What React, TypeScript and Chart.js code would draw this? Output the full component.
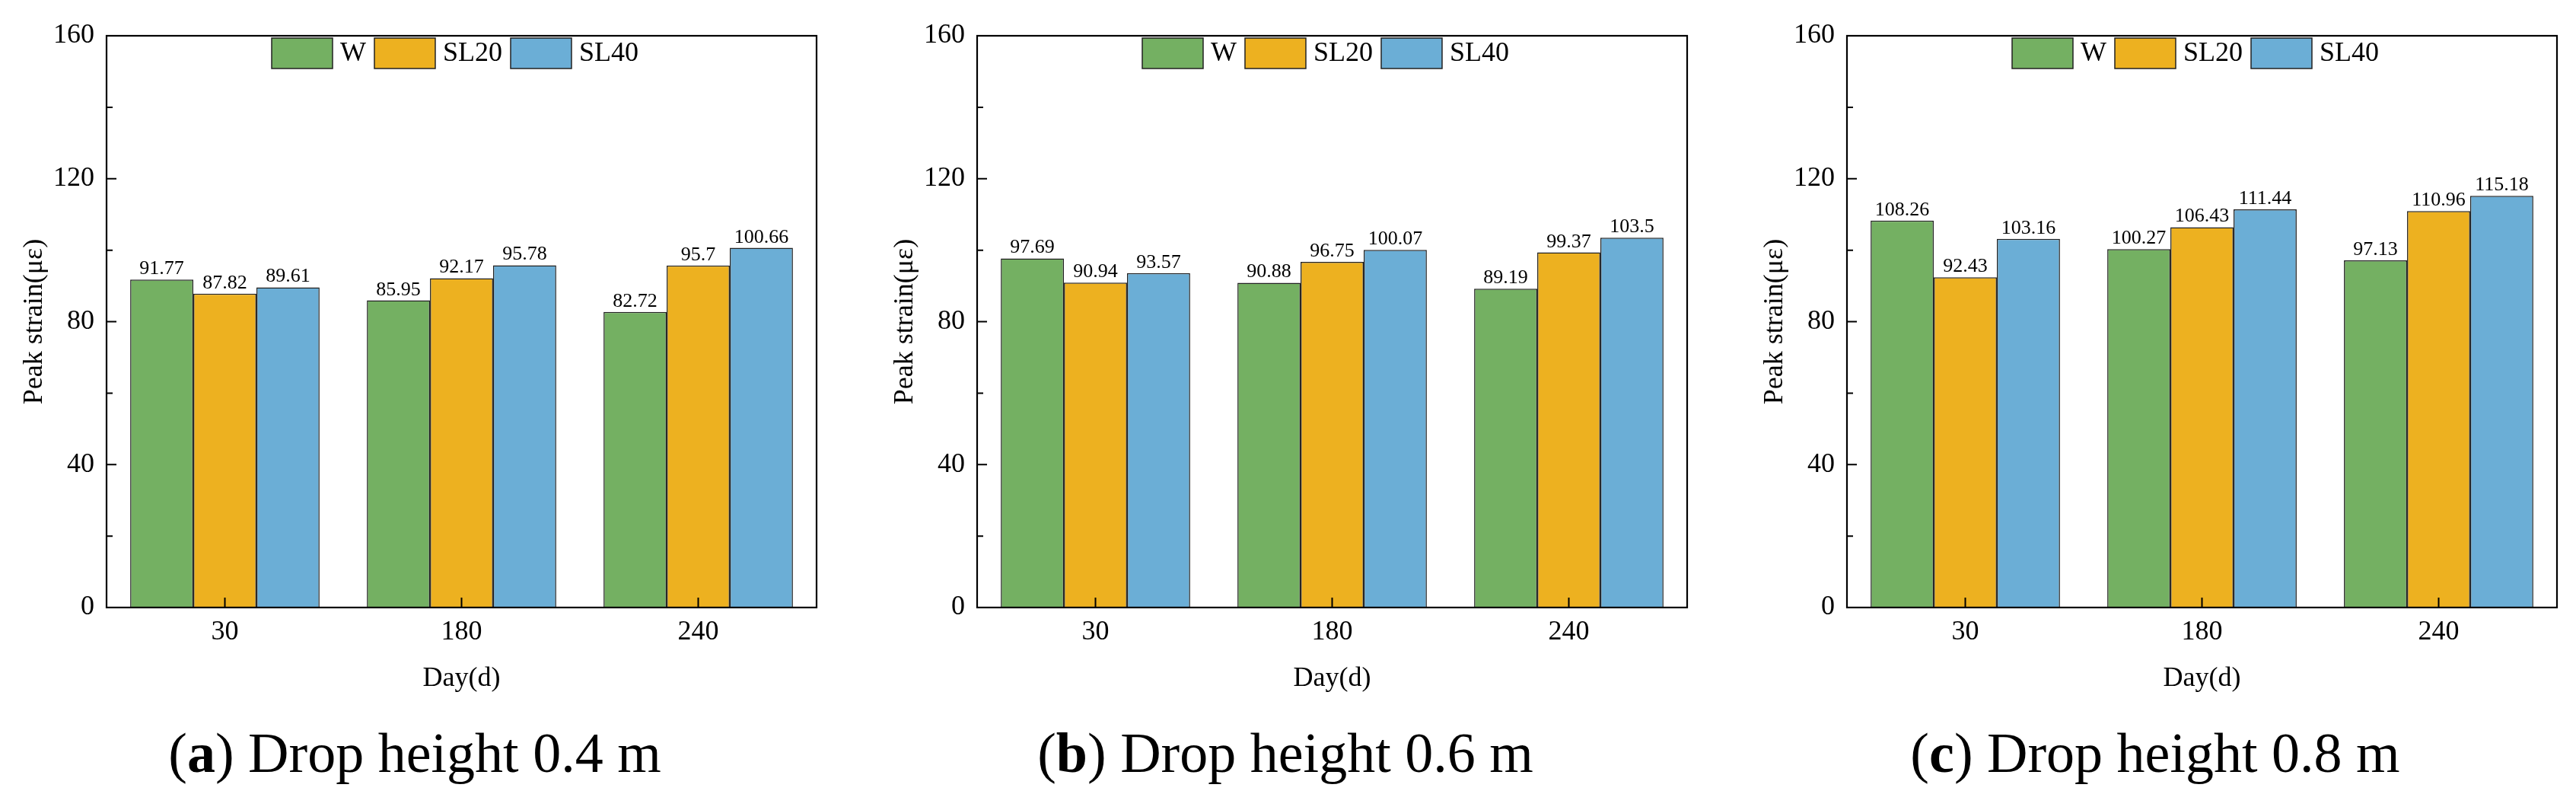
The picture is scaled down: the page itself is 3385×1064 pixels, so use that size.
import React, { useEffect, useRef } from 'react';
import { Chart, registerables } from 'chart.js';

Chart.register(...registerables);

// ---------- data ----------
const categories = ['30', '180', '240'];
const seriesLabels = ['W', 'SL20', 'SL40'];
const seriesColors = ['#74B062', '#EDB120', '#6BAED6'];
const yMajorTicks = [0, 40, 80, 120, 160];
const yMinorTicks = [20, 60, 100, 140];

const wA = [91.77, 85.95, 82.72];
const sl20A = [87.82, 92.17, 95.7];
const sl40A = [89.61, 95.78, 100.66];

const wB = [97.69, 90.88, 89.19];
const sl20B = [90.94, 96.75, 99.37];
const sl40B = [93.57, 100.07, 103.5];

const wC = [108.26, 100.27, 97.13];
const sl20C = [92.43, 106.43, 110.96];
const sl40C = [103.16, 111.44, 115.18];

const captionLetters = ['a', 'b', 'c'];
const captionTexts = ['Drop height 0.4 m', 'Drop height 0.6 m', 'Drop height 0.8 m'];

const panelSeries = [
  [wA, sl20A, sl40A],
  [wB, sl20B, sl40B],
  [wC, sl20C, sl40C],
];

// ---------- layout ----------
const FONT = "'Liberation Serif', 'Times New Roman', Times, serif";
const panelLefts = [0, 1144, 2287];
const CANVAS_W = 1098;
const CANVAS_H = 930;

const decorPlugin = {
  id: 'decor',
  afterDatasetsDraw(chart: any) {
    const { ctx, chartArea } = chart;
    const { left, right, top, bottom } = chartArea;
    const ys = chart.scales.y;
    const xs = chart.scales.x;
    ctx.save();

    // value labels
    ctx.font = `26px ${FONT}`;
    ctx.fillStyle = '#000';
    ctx.textAlign = 'center';
    ctx.textBaseline = 'alphabetic';
    chart.data.datasets.forEach((ds: any, i: number) => {
      const meta = chart.getDatasetMeta(i);
      meta.data.forEach((bar: any, j: number) => {
        ctx.fillText(String(ds.data[j]), bar.x, bar.y - 7);
      });
    });

    // frame
    ctx.strokeStyle = '#000';
    ctx.lineWidth = 2.2;
    ctx.strokeRect(left, top, right - left, bottom - top);

    // inward ticks
    ctx.lineWidth = 2;
    ctx.beginPath();
    yMajorTicks.forEach((v) => {
      const py = ys.getPixelForValue(v);
      ctx.moveTo(left, py);
      ctx.lineTo(left + 13, py);
    });
    yMinorTicks.forEach((v) => {
      const py = ys.getPixelForValue(v);
      ctx.moveTo(left, py);
      ctx.lineTo(left + 8, py);
    });
    categories.forEach((_c, k) => {
      const px = xs.getPixelForValue(k);
      ctx.moveTo(px, bottom);
      ctx.lineTo(px, bottom - 13);
    });
    ctx.stroke();

    // legend inside plot area
    ctx.font = `36px ${FONT}`;
    ctx.textAlign = 'left';
    ctx.textBaseline = 'middle';
    let lx = left + 217;
    const ly = top + 3;
    const bw = 80;
    const bh = 40;
    chart.data.datasets.forEach((ds: any) => {
      ctx.fillStyle = ds.backgroundColor;
      ctx.fillRect(lx, ly, bw, bh);
      ctx.strokeStyle = '#222';
      ctx.lineWidth = 1.5;
      ctx.strokeRect(lx, ly, bw, bh);
      lx += bw + 10;
      ctx.fillStyle = '#000';
      ctx.fillText(ds.label, lx, ly + bh / 2 + 1);
      lx += ctx.measureText(ds.label).width + 11;
    });

    ctx.restore();
  },
};

function Panel({ index }: { index: number }) {
  const ref = useRef<HTMLCanvasElement | null>(null);

  useEffect(() => {
    if (!ref.current) return;
    const series = panelSeries[index];
    const chart = new Chart(ref.current, {
      type: 'bar',
      data: {
        labels: categories,
        datasets: series.map((vals, i) => ({
          label: seriesLabels[i],
          data: vals,
          backgroundColor: seriesColors[i],
          borderColor: '#222',
          borderWidth: 1.5,
          categoryPercentage: 0.8,
          barPercentage: 1.0,
        })),
      },
      options: {
        animation: false,
        responsive: true,
        maintainAspectRatio: false,
        layout: { padding: { top: 47, right: 25, bottom: 0, left: 0 } },
        plugins: {
          legend: { display: false },
          tooltip: { enabled: false },
        },
        scales: {
          x: {
            grid: { display: false, drawTicks: false },
            border: { display: false },
            ticks: {
              color: '#000',
              font: { family: FONT, size: 36 },
              padding: 11,
            },
            title: {
              display: true,
              text: 'Day(d)',
              color: '#000',
              font: { family: FONT, size: 36 },
              padding: { top: 0, bottom: 17 },
            },
            afterFit: (scale: any) => {
              scale.height = 132;
            },
          },
          y: {
            min: 0,
            max: 160,
            grid: { display: false, drawTicks: false },
            border: { display: false },
            ticks: {
              stepSize: 40,
              color: '#000',
              font: { family: FONT, size: 36 },
              padding: 16,
            },
            title: {
              display: true,
              text: 'Peak strain(με)',
              color: '#000',
              font: { family: FONT, size: 36 },
              padding: { top: 24, bottom: 0 },
            },
            afterFit: (scale: any) => {
              scale.width = 140;
            },
          },
        },
      },
      plugins: [decorPlugin],
    } as any);
    return () => chart.destroy();
  }, [index]);

  return (
    <div
      style={{
        position: 'absolute',
        left: panelLefts[index],
        top: 0,
        width: CANVAS_W,
        height: CANVAS_H,
      }}
    >
      <canvas ref={ref} />
    </div>
  );
}

function Caption({ index }: { index: number }) {
  const center = panelLefts[index] + 545;
  return (
    <div
      style={{
        position: 'absolute',
        left: center - 500,
        width: 1000,
        top: 952,
        textAlign: 'center',
        fontFamily: FONT,
        fontSize: 74,
        lineHeight: '74px',
        color: '#000',
        whiteSpace: 'nowrap',
      }}
    >
      (<b>{captionLetters[index]}</b>) {captionTexts[index]}
    </div>
  );
}

export default function App() {
  return (
    <div
      style={{
        position: 'absolute',
        left: 0,
        top: 0,
        width: 3385,
        height: 1064,
        overflow: 'hidden',
        background: '#fff',
      }}
    >
      {[0, 1, 2].map((i) => (
        <Panel key={'p' + i} index={i} />
      ))}
      {[0, 1, 2].map((i) => (
        <Caption key={'c' + i} index={i} />
      ))}
    </div>
  );
}
